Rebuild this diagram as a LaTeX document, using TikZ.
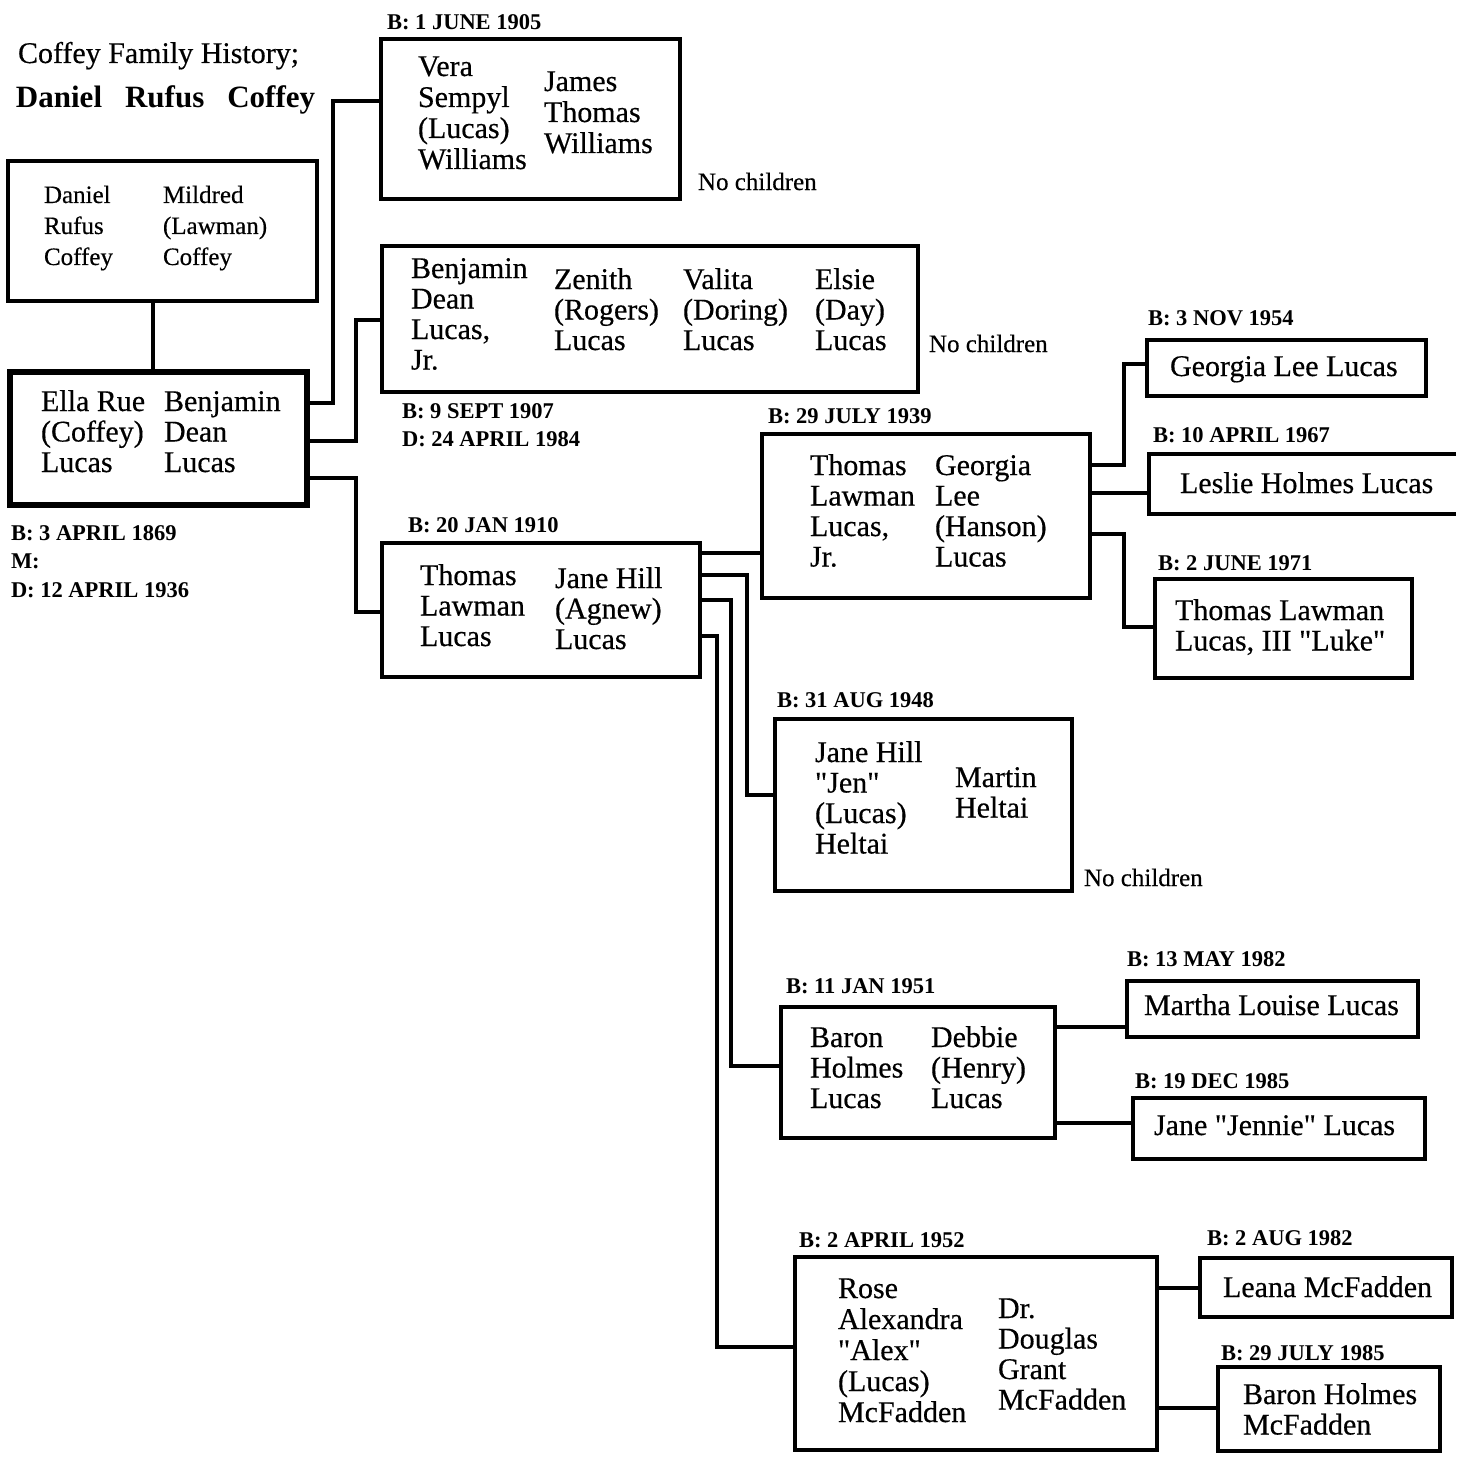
\documentclass[tikz,border=0pt]{standalone}
\usepackage{fontspec}
\setmainfont{Liberation Serif}
\newfontfamily\nmf{Liberation Serif}[FakeBold=0.4]
\newcommand{\stk}[1]{\begin{tabular}[t]{@{}l@{}}#1\end{tabular}}
\tikzset{
  box/.style={draw, line width=3.5pt, rectangle, inner sep=0pt, outer sep=0pt, anchor=north west},
  conn/.style={line width=3.5pt, line join=miter},
  nm/.style={inner sep=0pt, outer sep=0pt, anchor=base west, font=\nmf\fontsize{30}{30.5}\selectfont},
  smn/.style={inner sep=0pt, outer sep=0pt, anchor=base west, font=\nmf\fontsize{25}{31}\selectfont},
  lbl/.style={inner sep=0pt, outer sep=0pt, anchor=base west, font=\bfseries\fontsize{22.5}{28.5}\selectfont},
  noch/.style={inner sep=0pt, outer sep=0pt, anchor=base west, font=\nmf\fontsize{25}{30}\selectfont},
}
\begin{document}
\begin{tikzpicture}[x=1pt, y=-1pt]
\useasboundingbox (0,0) rectangle (1456,1458);
\fill[white] (0,0) rectangle (1456,1458);

% title
\node[nm] (title) at (18,63) {Coffey Family History;};
\node[nm, font=\bfseries\fontsize{31}{31}\selectfont] (tname) at (16,108) {Daniel\hspace{23pt}Rufus\hspace{23pt}Coffey};

% boxes
\node[box, minimum width=309pt, minimum height=140pt] (drc) at (8,161) {};
\node[box, line width=5.5pt, minimum width=297pt, minimum height=133pt] (ella) at (10,372) {};
\node[box, minimum width=299pt, minimum height=160pt] (vera) at (381,39) {};
\node[box, minimum width=536pt, minimum height=146pt] (benj) at (382,246) {};
\node[box, minimum width=318pt, minimum height=134pt] (tll) at (382,543) {};
\node[box, minimum width=328pt, minimum height=164pt] (tjr) at (762,434) {};
\node[box, minimum width=279pt, minimum height=56pt] (georgia) at (1147,340) {};
\node[inner sep=0pt, outer sep=0pt, anchor=north west, minimum width=307pt, minimum height=60pt] (leslie) at (1149,454) {};
\draw[line width=3.5pt] (leslie.north east) -- (leslie.north west) -- (leslie.south west) -- (leslie.south east);
\node[box, minimum width=257pt, minimum height=99pt] (luke) at (1155,579) {};
\node[box, minimum width=297pt, minimum height=172pt] (jen) at (775,719) {};
\node[box, minimum width=274pt, minimum height=131pt] (baron) at (781,1007) {};
\node[box, minimum width=291pt, minimum height=56pt] (martha) at (1127,981) {};
\node[box, minimum width=292pt, minimum height=61pt] (jennie) at (1133,1098) {};
\node[box, minimum width=362pt, minimum height=193pt] (rose) at (795,1257) {};
\node[box, minimum width=252pt, minimum height=59pt] (leana) at (1200,1258) {};
\node[box, minimum width=222pt, minimum height=84pt] (bhm) at (1218,1367) {};

% texts
\node[smn] (drc1) at (44,203) {\stk{Daniel\\Rufus\\Coffey}};
\node[smn] (drc2) at (163,203) {\stk{Mildred\\(Lawman)\\Coffey}};

\node[nm] (ella1) at (41,411) {\stk{Ella Rue\\(Coffey)\\Lucas}};
\node[nm] (ella2) at (164,411) {\stk{Benjamin\\Dean\\Lucas}};
\node[lbl] (elladates) at (11,540) {\stk{B: 3 APRIL 1869\\M:\\D: 12 APRIL 1936}};

\node[lbl] (veralbl) at (387,30) {B: 1 JUNE 1905};
\node[nm, font=\nmf\fontsize{30}{31}\selectfont] (vera1) at (418,76) {\stk{Vera\\Sempyl\\(Lucas)\\Williams}};
\node[nm, font=\nmf\fontsize{30}{31}\selectfont] (vera2) at (544,91) {\stk{James\\Thomas\\Williams}};
\node[noch] (nc1) at (698,190) {No children};

\node[nm] (benj1) at (411,278) {\stk{Benjamin\\Dean\\Lucas,\\Jr.}};
\node[nm] (benj2) at (554,289) {\stk{Zenith\\(Rogers)\\Lucas}};
\node[nm] (benj3) at (683,289) {\stk{Valita\\(Doring)\\Lucas}};
\node[nm] (benj4) at (815,289) {\stk{Elsie\\(Day)\\Lucas}};
\node[noch] (nc2) at (929,352) {No children};
\node[lbl] (benjdates) at (402,418) {\stk{B: 9 SEPT 1907\\D: 24 APRIL 1984}};

\node[lbl] (tlllbl) at (408,532) {B: 20 JAN 1910};
\node[nm] (tll1) at (420,585) {\stk{Thomas\\Lawman\\Lucas}};
\node[nm] (tll2) at (555,588) {\stk{Jane Hill\\(Agnew)\\Lucas}};

\node[lbl] (tjrlbl) at (768,423) {B: 29 JULY 1939};
\node[nm] (tjr1) at (810,475) {\stk{Thomas\\Lawman\\Lucas,\\Jr.}};
\node[nm] (tjr2) at (935,475) {\stk{Georgia\\Lee\\(Hanson)\\Lucas}};

\node[lbl] (georgialbl) at (1148,325) {B: 3 NOV 1954};
\node[nm] (georgiatxt) at (1170,376) {Georgia Lee Lucas};
\node[lbl] (leslielbl) at (1153,442) {B: 10 APRIL 1967};
\node[nm] (leslietxt) at (1180,493) {Leslie Holmes Lucas};
\node[lbl] (lukelbl) at (1158,570) {B: 2 JUNE 1971};
\node[nm] (luketxt) at (1175,620) {\stk{Thomas Lawman\\Lucas, III "Luke"}};

\node[lbl] (jenlbl) at (777,707) {B: 31 AUG 1948};
\node[nm] (jen1) at (815,762) {\stk{Jane Hill\\"Jen"\\(Lucas)\\Heltai}};
\node[nm] (jen2) at (955,787) {\stk{Martin\\Heltai}};
\node[noch] (nc3) at (1084,886) {No children};

\node[lbl] (baronlbl) at (786,993) {B: 11 JAN 1951};
\node[nm] (baron1) at (810,1047) {\stk{Baron\\Holmes\\Lucas}};
\node[nm] (baron2) at (931,1047) {\stk{Debbie\\(Henry)\\Lucas}};
\node[lbl] (marthalbl) at (1127,966) {B: 13 MAY 1982};
\node[nm] (marthatxt) at (1144,1015) {Martha Louise Lucas};
\node[lbl] (jennielbl) at (1135,1088) {B: 19 DEC 1985};
\node[nm] (jennietxt) at (1154,1135) {Jane "Jennie" Lucas};

\node[lbl] (roselbl) at (799,1247) {B: 2 APRIL 1952};
\node[nm, font=\nmf\fontsize{30}{31}\selectfont] (rose1) at (838,1298) {\stk{Rose\\Alexandra\\"Alex"\\(Lucas)\\McFadden}};
\node[nm] (rose2) at (998,1318) {\stk{Dr.\\Douglas\\Grant\\McFadden}};
\node[lbl] (leanalbl) at (1207,1245) {B: 2 AUG 1982};
\node[nm] (leanatxt) at (1223,1297) {Leana McFadden};
\node[lbl] (bhmlbl) at (1221,1360) {B: 29 JULY 1985};
\node[nm] (bhmtxt) at (1243,1404) {\stk{Baron Holmes\\McFadden}};

% connectors
\draw[conn] (drc.south -| 153,0) -- (ella.north -| 153,0);
\draw[conn] (ella.east |- 0,403) -- (333,403) -- (333,101) -- (vera.west |- 0,101);
\draw[conn] (ella.east |- 0,441) -- (356,441) -- (356,320) -- (benj.west |- 0,320);
\draw[conn] (ella.east |- 0,478) -- (356,478) -- (356,612) -- (tll.west |- 0,612);
\draw[conn] (tll.east |- 0,553) -- (tjr.west |- 0,553);
\draw[conn] (tll.east |- 0,575) -- (747,575) -- (747,795) -- (jen.west |- 0,795);
\draw[conn] (tll.east |- 0,600) -- (731,600) -- (731,1066) -- (baron.west |- 0,1066);
\draw[conn] (tll.east |- 0,636) -- (717,636) -- (717,1347) -- (rose.west |- 0,1347);
\draw[conn] (tjr.east |- 0,465) -- (1124,465) -- (1124,364) -- (georgia.west |- 0,364);
\draw[conn] (tjr.east |- 0,493) -- (leslie.west |- 0,493);
\draw[conn] (tjr.east |- 0,534) -- (1124,534) -- (1124,627) -- (luke.west |- 0,627);
\draw[conn] (baron.east |- 0,1027) -- (martha.west |- 0,1027);
\draw[conn] (baron.east |- 0,1123) -- (jennie.west |- 0,1123);
\draw[conn] (rose.east |- 0,1288) -- (leana.west |- 0,1288);
\draw[conn] (rose.east |- 0,1408) -- (bhm.west |- 0,1408);
\end{tikzpicture}
\end{document}
